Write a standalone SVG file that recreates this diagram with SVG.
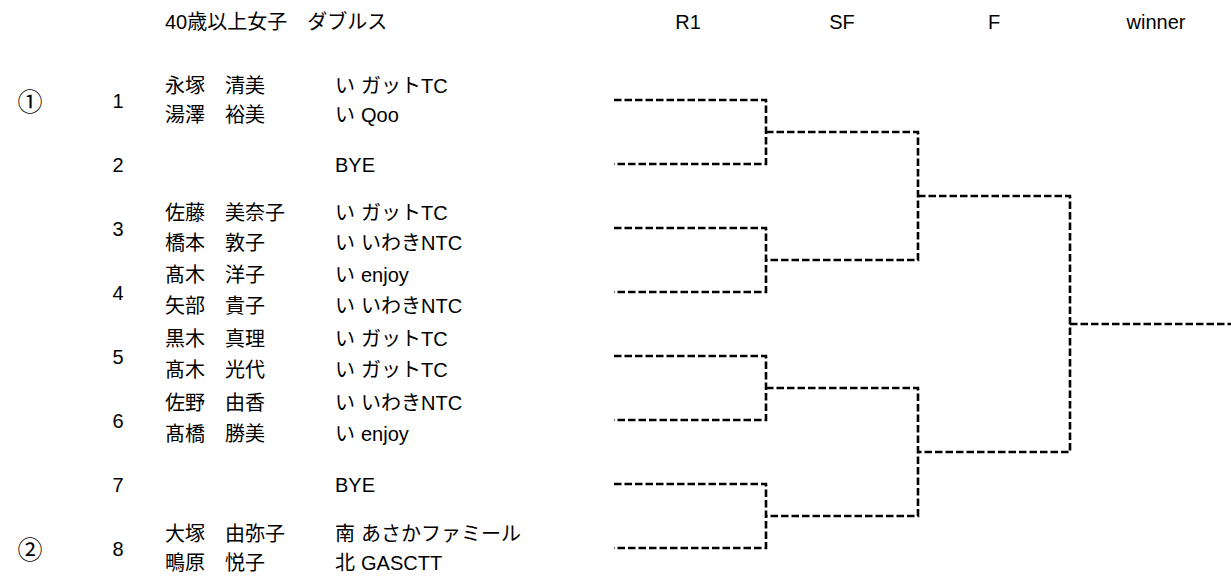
<svg xmlns="http://www.w3.org/2000/svg" width="1231" height="582" viewBox="0 0 1231 582">
<style>
text{font-family:"Liberation Sans","Noto Sans CJK JP",sans-serif;font-size:20px;fill:#000}
.c{text-anchor:middle}
.s{font-size:25px}
.br{fill:none;stroke:#000;stroke-width:2.6;stroke-dasharray:7.5 3}
</style>
<rect width="1231" height="582" fill="#fff"/>
<g id="header">
<text x="165" y="29">40歳以上女子　ダブルス</text>
<text class="c" x="688" y="29">R1</text>
<text class="c" x="842" y="29">SF</text>
<text class="c" x="994" y="29">F</text>
<text class="c" x="1156" y="29">winner</text>
</g>
<g id="seeds">
<text class="c s" x="30" y="111">①</text>
<text class="c s" x="30" y="559">②</text>
</g>
<g id="entry1">
<text class="c" x="118" y="108">1</text>
<text x="165" y="93">永塚　清美</text><text x="335" y="93">い</text><text x="361" y="93">ガットTC</text>
<text x="165" y="122">湯澤　裕美</text><text x="335" y="122">い</text><text x="361" y="122">Qoo</text>
</g>
<g id="entry2">
<text class="c" x="118" y="172">2</text>
<text x="335" y="172">BYE</text>
</g>
<g id="entry3">
<text class="c" x="118" y="236">3</text>
<text x="165" y="220">佐藤　美奈子</text><text x="335" y="220">い</text><text x="361" y="220">ガットTC</text>
<text x="165" y="250">橋本　敦子</text><text x="335" y="250">い</text><text x="361" y="250">いわきNTC</text>
</g>
<g id="entry4">
<text class="c" x="118" y="300">4</text>
<text x="165" y="282">髙木　洋子</text><text x="335" y="282">い</text><text x="361" y="282">enjoy</text>
<text x="165" y="313">矢部　貴子</text><text x="335" y="313">い</text><text x="361" y="313">いわきNTC</text>
</g>
<g id="entry5">
<text class="c" x="118" y="364">5</text>
<text x="165" y="346">黒木　真理</text><text x="335" y="346">い</text><text x="361" y="346">ガットTC</text>
<text x="165" y="377">髙木　光代</text><text x="335" y="377">い</text><text x="361" y="377">ガットTC</text>
</g>
<g id="entry6">
<text class="c" x="118" y="428">6</text>
<text x="165" y="410">佐野　由香</text><text x="335" y="410">い</text><text x="361" y="410">いわきNTC</text>
<text x="165" y="441">髙橋　勝美</text><text x="335" y="441">い</text><text x="361" y="441">enjoy</text>
</g>
<g id="entry7">
<text class="c" x="118" y="492">7</text>
<text x="335" y="492">BYE</text>
</g>
<g id="entry8">
<text class="c" x="118" y="556">8</text>
<text x="165" y="541">大塚　由弥子</text><text x="335" y="541">南</text><text x="361" y="541">あさかファミール</text>
<text x="165" y="570">鴫原　悦子</text><text x="335" y="570">北</text><text x="361" y="570">GASCTT</text>
</g>
<g id="connectors" class="br">
<path d="M614,100 H766 V164 H614"/>
<path d="M614,228 H766 V292 H614"/>
<path d="M614,356 H766 V420 H614"/>
<path d="M614,484 H766 V548 H614"/>
<path d="M766,132 H918 V260 H766"/>
<path d="M766,388 H918 V516 H766"/>
<path d="M918,196 H1070 V452 H918"/>
<path d="M1070,324 H1231"/>
</g>
</svg>
